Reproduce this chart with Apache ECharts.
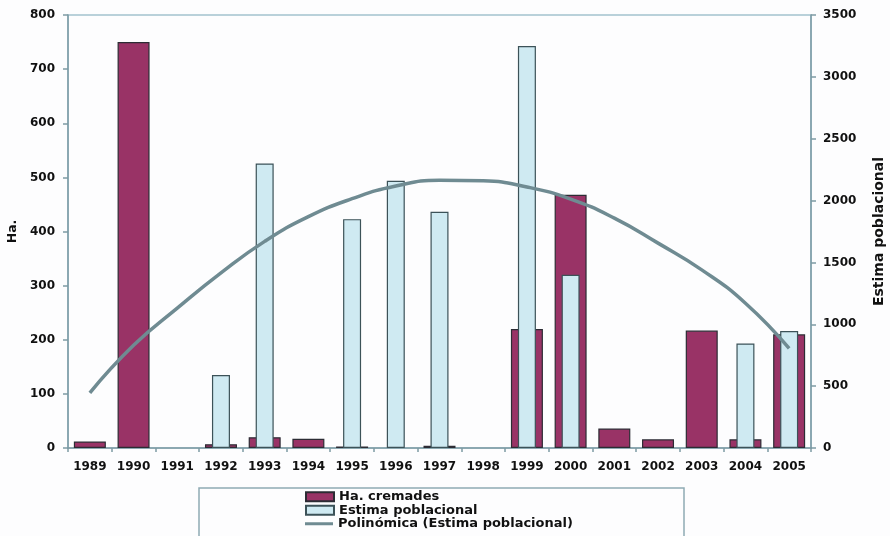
<!DOCTYPE html>
<html>
<head>
<meta charset="utf-8">
<script src="https://cdn.jsdelivr.net/npm/echarts@6/dist/echarts.min.js"></script>
<style>
html,body{margin:0;padding:0;background:#fdfdfe;}
#c{width:890px;height:536px;}
</style>
</head>
<body>
<div id="c"></div>
<script>
const years = ['1989','1990','1991','1992','1993','1994','1995','1996','1997','1998','1999','2000','2001','2002','2003','2004','2005'];
const haCremades = [12, 750, 0, 7, 20, 17, 3, 0, 4, 0, 220, 468, 36, 16, 217, 16, 210];
const estimaPoblacional = [0, 0, 0, 590, 2300, 0, 1850, 2160, 1910, 0, 3250, 1400, 0, 0, 0, 845, 945];
const polinomica = [446, 830, 1130, 1415, 1670, 1870, 2015, 2118, 2165, 2160, 2110, 2012, 1858, 1656, 1440, 1170, 805];
const leftTicks = [0, 100, 200, 300, 400, 500, 600, 700, 800];
const rightTicks = [0, 500, 1000, 1500, 2000, 2500, 3000, 3500];

const nz = a => a.map(v => v === 0 ? null : v);
const FONT = '"DejaVu Sans", Arial, sans-serif';
const txt = {fontFamily: FONT, fontWeight: 'bold', fontSize: 12, color: '#111'};
const axisCol = '#7d9aa4';

const chart = echarts.init(document.getElementById('c'));
chart.setOption({
  backgroundColor: '#fdfdfe',
  animation: false,
  grid: {left: 68, right: 79, top: 15, bottom: 88, outerBoundsMode: 'none', containLabel: false,
         show: true, borderColor: '#a3c2ce', borderWidth: 1.5, backgroundColor: 'transparent'},
  graphic: [{
    type: 'rect', z: 0, shape: {x: 199, y: 488, width: 485, height: 60},
    style: {fill: '#fdfdfe', stroke: '#8faab4', lineWidth: 1.5}
  }],
  legend: [{
    orient: 'vertical', left: 305, top: 490, padding: 0, itemGap: 0,
    itemWidth: 28, itemHeight: 9,
    textStyle: Object.assign({}, txt, {fontSize: 13, lineHeight: 13.5}),
    data: [
      {name: 'Ha. cremades', icon: 'rect'},
      {name: 'Estima poblacional', icon: 'rect'}
    ]
  }, {
    orient: 'vertical', left: 305, top: 517, padding: 0, itemGap: 0,
    itemWidth: 28, itemHeight: 3,
    itemStyle: {borderWidth: 0},
    textStyle: Object.assign({}, txt, {fontSize: 13, lineHeight: 13.5}),
    data: [
      {name: 'Polinómica (Estima poblacional)', icon: 'rect'}
    ]
  }],
  xAxis: [{
    type: 'category', data: years, position: 'bottom',
    axisLine: {lineStyle: {color: axisCol, width: 1.5}},
    axisTick: {show: true, length: 4, lineStyle: {color: axisCol, width: 1.5}},
    axisLabel: Object.assign({}, txt, {margin: 13, interval: 0}),
    splitLine: {show: false}
  }, {
    type: 'category', data: years, position: 'bottom', show: false
  }],
  yAxis: [{
    type: 'value', min: leftTicks[0], max: leftTicks[leftTicks.length-1], interval: leftTicks[1]-leftTicks[0],
    name: 'Ha.', nameLocation: 'middle', nameGap: 49, nameRotate: 90, nameMoveOverlap: false,
    nameTextStyle: Object.assign({}, txt, {fontSize: 12.5}),
    axisLine: {show: true, lineStyle: {color: axisCol, width: 1.5}},
    axisTick: {show: true, length: 5, lineStyle: {color: axisCol, width: 1.5}},
    axisLabel: Object.assign({}, txt, {margin: 13}),
    splitLine: {show: false}
  }, {
    type: 'value', position: 'right', min: rightTicks[0], max: rightTicks[rightTicks.length-1], interval: rightTicks[1]-rightTicks[0],
    name: 'Estima poblacional', nameLocation: 'middle', nameGap: 61, nameRotate: 90, nameMoveOverlap: false,
    nameTextStyle: Object.assign({}, txt, {fontSize: 14}),
    axisLine: {show: true, lineStyle: {color: axisCol, width: 1.5}},
    axisTick: {show: true, length: 5, lineStyle: {color: axisCol, width: 1.5}},
    axisLabel: Object.assign({}, txt, {margin: 12, formatter: v => String(v)}),
    splitLine: {show: false}
  }],
  series: [{
    name: 'Ha. cremades', type: 'bar', xAxisIndex: 0, yAxisIndex: 0,
    data: nz(haCremades), barWidth: 32,
    itemStyle: {color: '#993366', borderColor: '#2c2c34', borderWidth: 1.2}, z: 2
  }, {
    name: 'Estima poblacional', type: 'bar', xAxisIndex: 1, yAxisIndex: 1,
    data: nz(estimaPoblacional), barWidth: 18,
    itemStyle: {color: '#cfeaf2', borderColor: '#3c5258', borderWidth: 1.2}, z: 3
  }, {
    name: 'Polinómica (Estima poblacional)', type: 'line', xAxisIndex: 0, yAxisIndex: 1,
    data: polinomica, smooth: true, symbol: 'none', showSymbol: false,
    lineStyle: {color: '#6f8b92', width: 3.5},
    itemStyle: {color: '#6f8b92'}, z: 4
  }]
});
</script>
</body>
</html>
